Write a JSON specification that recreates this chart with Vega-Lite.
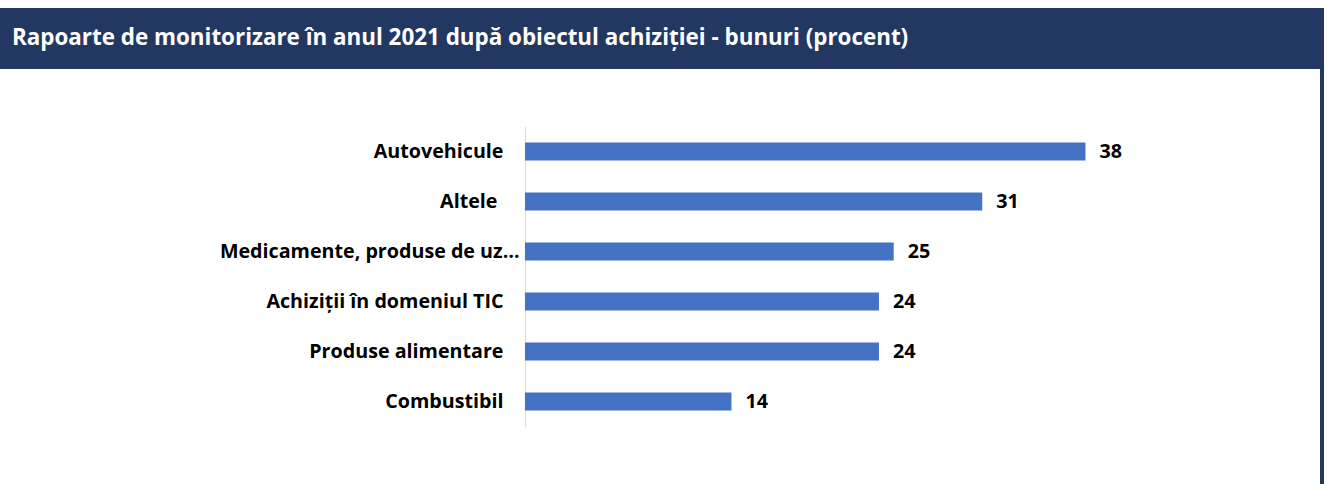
{
  "$schema": "https://vega.github.io/schema/vega-lite/v6.json",
  "padding": {"top": 8, "left": 0, "right": 0, "bottom": 0},
  "background": "white",
  "spacing": 0,
  "config": {
    "view": {"stroke": null},
    "concat": {"spacing": 0}
  },
  "vconcat": [
    {
      "width": 1324,
      "height": 61,
      "view": {"fill": "#223863", "stroke": null},
      "title": {
        "text": "Rapoarte de monitorizare în anul 2021 după obiectul achiziției - bunuri (procent)",
        "anchor": "start",
        "frame": "group",
        "orient": "top",
        "offset": -59,
        "baseline": "alphabetic",
        "dx": 12,
        "color": "white",
        "font": "Open Sans",
        "fontSize": 22.4,
        "fontWeight": "bold"
      },
      "data": {"values": []},
      "mark": "text"
    },
    {
      "spacing": 0,
      "center": true,
      "hconcat": [
        {
          "width": 1320,
          "height": 300,
          "data": {
            "values": [
              {"categorie": "Autovehicule", "procent": 38},
              {"categorie": "Altele", "procent": 31},
              {"categorie": "Medicamente, produse de uz…", "procent": 25},
              {"categorie": "Achiziții în domeniul TIC", "procent": 24},
              {"categorie": "Produse alimentare", "procent": 24},
              {"categorie": "Combustibil", "procent": 14}
            ]
          },
          "encoding": {
            "y": {
              "field": "categorie",
              "type": "nominal",
              "sort": null,
              "scale": {"paddingInner": 0.64, "paddingOuter": 0.32},
              "axis": {
                "title": null,
                "offset": -525,
                "domainColor": "#d9d9d9",
                "domainWidth": 1,
                "ticks": false,
                "labelPadding": {"condition": [
                  {"test": "indexof(datum.value, 'Medicamente') === 0", "value": 6},
                  {"test": "datum.value === 'Altele'", "value": 28}
                ], "value": 22},
                "labelFont": "Open Sans",
                "labelFontSize": 19.7,
                "labelFontWeight": "bold",
                "labelColor": "black",
                "labelLimit": 600
              }
            },
            "x": {
              "field": "procent",
              "type": "quantitative",
              "scale": {"domain": [-35.59, 53.9], "nice": false, "zero": false},
              "axis": null
            }
          },
          "layer": [
            {"mark": {"type": "bar", "color": "#4472C4"}},
            {
              "mark": {"type": "text", "align": "left", "baseline": "middle", "dx": 14, "font": "Open Sans", "fontSize": 19.7, "fontWeight": "bold", "color": "black"},
              "encoding": {"text": {"field": "procent", "type": "quantitative"}}
            }
          ]
        },
        {
          "width": 4,
          "height": 415,
          "view": {"fill": "#223863", "stroke": null},
          "data": {"values": []},
          "mark": "text"
        }
      ]
    }
  ]
}
